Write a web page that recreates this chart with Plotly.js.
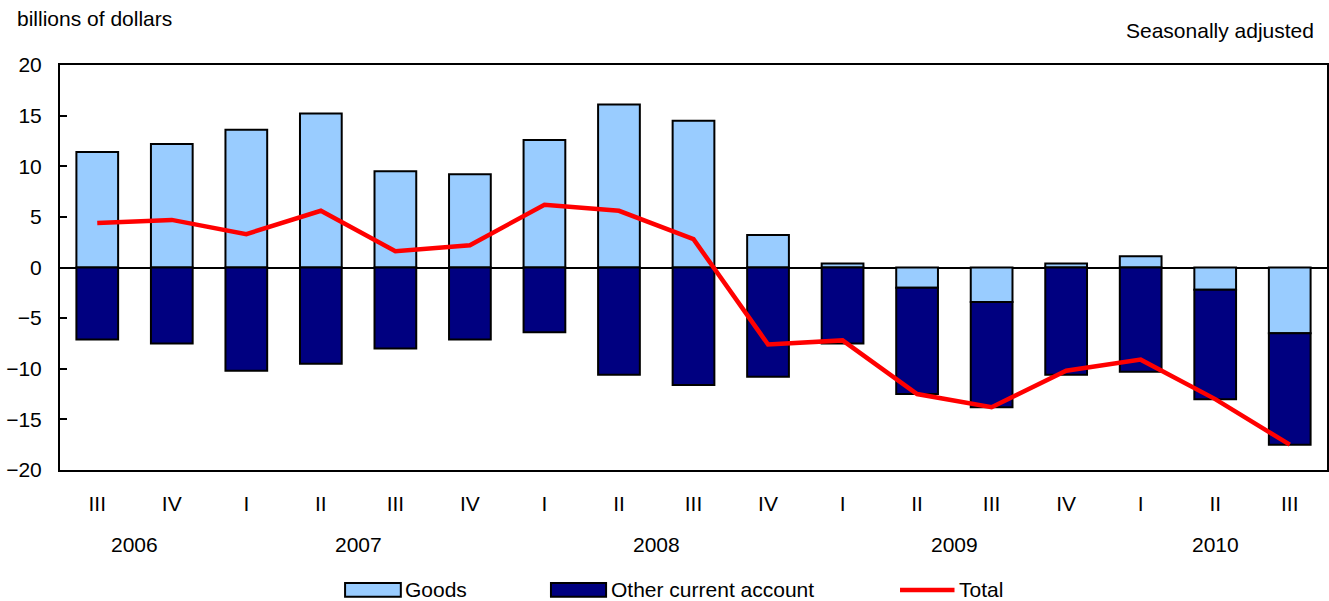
<!DOCTYPE html>
<html>
<head>
<meta charset="utf-8">
<script src="https://cdn.plot.ly/plotly-3.0.1.min.js"></script>
<style>
html,body{margin:0;padding:0;background:#fff;}
#chart{width:1329px;height:601px;}
</style>
</head>
<body>
<div id="chart"></div>
<script>
const years = ['2006','2006','2007','2007','2007','2007','2008','2008','2008','2008','2009','2009','2009','2009','2010','2010','2010'];
const quarters = ['III','IV','I','II','III','IV','I','II','III','IV','I','II','III','IV','I','II','III'];
const goods = [11.4, 12.2, 13.6, 15.2, 9.5, 9.2, 12.6, 16.1, 14.5, 3.2, 0.4, -2.0, -3.4, 0.4, 1.1, -2.2, -6.5];
const otherCurrent = [-7.1, -7.5, -10.2, -9.5, -8.0, -7.1, -6.4, -10.6, -11.6, -10.8, -7.5, -10.5, -10.4, -10.6, -10.3, -10.8, -11.0];
const total = [4.4, 4.7, 3.3, 5.6, 1.6, 2.2, 6.2, 5.6, 2.8, -7.6, -7.2, -12.5, -13.8, -10.2, -9.1, -13.0, -17.5];
const seriesNames = ['Goods', 'Other current account', 'Total'];

const categories = years.map((y, i) => y + ' ' + quarters[i]);
const FONT = 'Liberation Sans, Arial, Helvetica, sans-serif';
const FS = 21;

const traces = [
  {type: 'bar', name: seriesNames[0], x: categories, y: goods,
   marker: {color: '#99CCFF', line: {color: '#000000', width: 2}}, showlegend: false},
  {type: 'bar', name: seriesNames[1], x: categories, y: otherCurrent,
   marker: {color: '#000080', line: {color: '#000000', width: 2}}, showlegend: false},
  {type: 'scatter', mode: 'lines', name: seriesNames[2], x: categories, y: total,
   line: {color: '#FF0000', width: 4.5}, showlegend: false}
];

// year group labels centred under their quarters
const yearLabels = [...new Set(years)];
const annotations = yearLabels.map(yr => {
  const idx = years.map((y, i) => y === yr ? i : null).filter(v => v !== null);
  const mid = idx.reduce((a, b) => a + b, 0) / idx.length;
  return {x: mid, xref: 'x', y: -0.183, yref: 'paper', text: yr, showarrow: false,
          xanchor: 'center', yanchor: 'middle', font: {family: FONT, size: FS, color: '#000'}};
});
annotations.push(
  {x: -0.0355, xref: 'paper', y: 1.116, yref: 'paper', text: 'billions of dollars', showarrow: false,
   xanchor: 'left', yanchor: 'middle', font: {family: FONT, size: FS, color: '#000'}},
  {x: 0.991, xref: 'paper', y: 1.086, yref: 'paper', text: 'Seasonally adjusted', showarrow: false,
   xanchor: 'right', yanchor: 'middle', font: {family: FONT, size: FS, color: '#000'}}
);

// custom legend (long swatches as in the reference)
const legendItems = [
  {x0: 0.225, x1: 0.269, kind: 'rect', color: '#99CCFF', label: seriesNames[0]},
  {x0: 0.3875, x1: 0.431, kind: 'rect', color: '#000080', label: seriesNames[1]},
  {x0: 0.663, x1: 0.706, kind: 'line', color: '#FF0000', label: seriesNames[2]}
];
const shapes = [];
const ly = -0.296;
legendItems.forEach(it => {
  if (it.kind === 'rect') {
    shapes.push({type: 'rect', xref: 'paper', yref: 'paper', x0: it.x0, x1: it.x1, y0: ly - 0.017, y1: ly + 0.017,
                 fillcolor: it.color, line: {color: '#000', width: 2}});
  } else {
    shapes.push({type: 'line', xref: 'paper', yref: 'paper', x0: it.x0, x1: it.x1, y0: ly, y1: ly,
                 line: {color: it.color, width: 4.5}});
  }
  annotations.push({x: it.x1 + 0.002, xref: 'paper', y: ly, yref: 'paper', text: it.label, showarrow: false,
                    xanchor: 'left', yanchor: 'middle', font: {family: FONT, size: FS, color: '#000'}});
});

const layout = {
  width: 1329, height: 601,
  margin: {l: 60, r: 2, t: 65, b: 131},
  paper_bgcolor: '#fff', plot_bgcolor: '#fff',
  barmode: 'relative', bargap: 0.44,
  font: {family: FONT, size: FS, color: '#000'},
  showlegend: false,
  xaxis: {type: 'category', tickvals: categories, ticktext: quarters, range: [-0.5, 16.5],
          showline: true, mirror: true, linecolor: '#000', linewidth: 2, ticks: '', showgrid: false,
          ticklabelstandoff: 14, tickfont: {family: FONT, size: FS}},
  yaxis: {range: [-20, 20], dtick: 5, tick0: 0, ticks: 'inside', ticklen: 7, tickwidth: 2, tickcolor: '#000',
          showline: true, mirror: true, linecolor: '#000', linewidth: 2, showgrid: false,
          zeroline: true, zerolinecolor: '#000', zerolinewidth: 2, ticklabelstandoff: 12,
          tickfont: {family: FONT, size: FS}},
  annotations: annotations,
  shapes: shapes
};

Plotly.newPlot('chart', traces, layout, {displayModeBar: false, staticPlot: true});
</script>
</body>
</html>
